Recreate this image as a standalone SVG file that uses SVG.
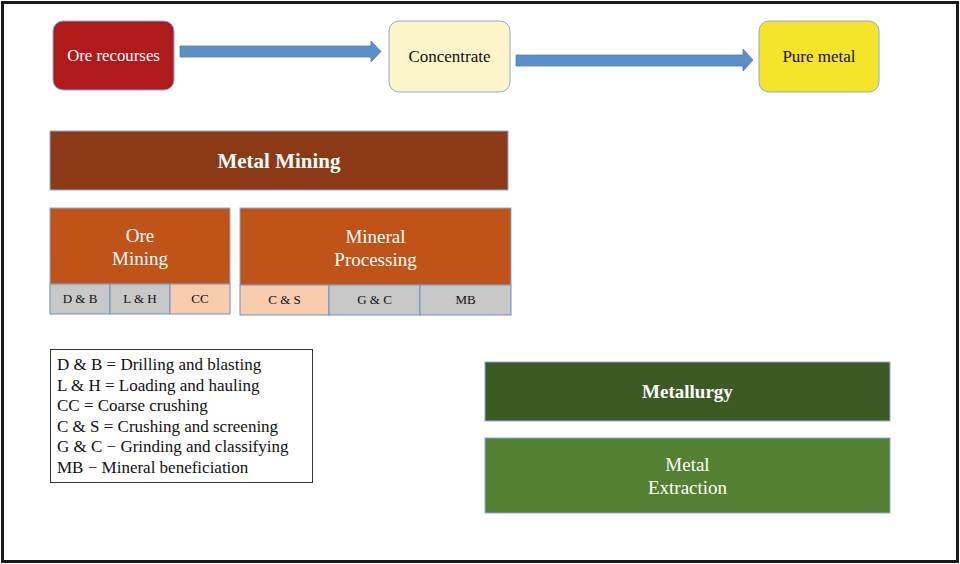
<svg xmlns="http://www.w3.org/2000/svg" width="960" height="564" viewBox="0 0 960 564">
<style>
text{font-family:"Liberation Serif","Times New Roman",serif;}
.w{fill:#ffffff;}
.k{fill:#111111;}
.c{text-anchor:middle;}
.box{stroke:#8eaadb;stroke-width:1;}
.cell{stroke:#6f8fbf;stroke-width:1;}
.gray{fill:#c8c8c8;}
.peach{fill:#f8cbad;}
</style>
<rect x="2.5" y="2.5" width="955" height="559" fill="#ffffff" stroke="#1a1a1a" stroke-width="3"/>
<g id="connectors" fill="#5b8fc9" stroke="#4f7fb8" stroke-width="0.8">
<polygon points="180,46 371,46 371,41 381,51.5 371,62 371,57 180,57"/>
<polygon points="516,55 743,55 743,49 753,60 743,71 743,66 516,66"/>
</g>
<g id="ore-recourses">
<rect class="box" x="53" y="21" width="121" height="69" rx="10" fill="#b11a1a"/>
<text class="w c" x="113.5" y="61" font-size="16.8">Ore recourses</text>
</g>
<g id="concentrate">
<rect class="box" x="389" y="21" width="121" height="71" rx="10" fill="#fdf5ca"/>
<text class="k c" x="449.5" y="62" font-size="17">Concentrate</text>
</g>
<g id="pure-metal">
<rect class="box" x="759" y="21" width="120" height="71" rx="10" fill="#f5e52a"/>
<text class="k c" x="819" y="62" font-size="17">Pure metal</text>
</g>
<g id="metal-mining">
<rect class="box" x="50" y="131" width="458" height="59" fill="#8b3a15"/>
<text class="w c" x="279" y="168" font-size="21" font-weight="bold">Metal Mining</text>
</g>
<g id="ore-mining">
<rect class="box" x="50" y="208" width="180" height="76" fill="#c05318"/>
<text class="w c" x="140" y="242" font-size="19">Ore</text>
<text class="w c" x="140" y="265" font-size="19">Mining</text>
<rect class="cell gray" x="50" y="284" width="60" height="30"/>
<rect class="cell gray" x="110" y="284" width="60" height="30"/>
<rect class="cell peach" x="170" y="284" width="60" height="30"/>
<text class="k c" x="80" y="303" font-size="13">D &amp; B</text>
<text class="k c" x="140" y="303" font-size="13">L &amp; H</text>
<text class="k c" x="200" y="303" font-size="13">CC</text>
</g>
<g id="mineral-processing">
<rect class="box" x="240" y="208" width="271" height="77" fill="#c05318"/>
<text class="w c" x="375.5" y="243" font-size="19">Mineral</text>
<text class="w c" x="375.5" y="266" font-size="19">Processing</text>
<rect class="cell peach" x="240" y="285" width="89" height="30"/>
<rect class="cell gray" x="329" y="285" width="91" height="30"/>
<rect class="cell gray" x="420" y="285" width="91" height="30"/>
<text class="k c" x="284.5" y="304" font-size="13">C &amp; S</text>
<text class="k c" x="374.5" y="304" font-size="13">G &amp; C</text>
<text class="k c" x="465.5" y="304" font-size="13">MB</text>
</g>
<g id="legend">
<rect x="50.5" y="349.5" width="262" height="133" fill="#ffffff" stroke="#333333" stroke-width="1"/>
<text class="k" font-size="17">
<tspan x="57" y="370">D &amp; B = Drilling and blasting</tspan>
<tspan x="57" y="390.5">L &amp; H = Loading and hauling</tspan>
<tspan x="57" y="411">CC = Coarse crushing</tspan>
<tspan x="57" y="431.5">C &amp; S = Crushing and screening</tspan>
<tspan x="57" y="452">G &amp; C − Grinding and classifying</tspan>
<tspan x="57" y="472.5">MB − Mineral beneficiation</tspan>
</text>
</g>
<g id="metallurgy">
<rect class="box" x="485" y="362" width="405" height="59" fill="#3e5a24"/>
<text class="w c" x="687.5" y="398" font-size="19" font-weight="bold">Metallurgy</text>
</g>
<g id="metal-extraction">
<rect class="box" x="485" y="438" width="405" height="75" fill="#548031"/>
<text class="w c" x="687.5" y="471" font-size="19">Metal</text>
<text class="w c" x="687.5" y="494" font-size="19">Extraction</text>
</g>
</svg>
